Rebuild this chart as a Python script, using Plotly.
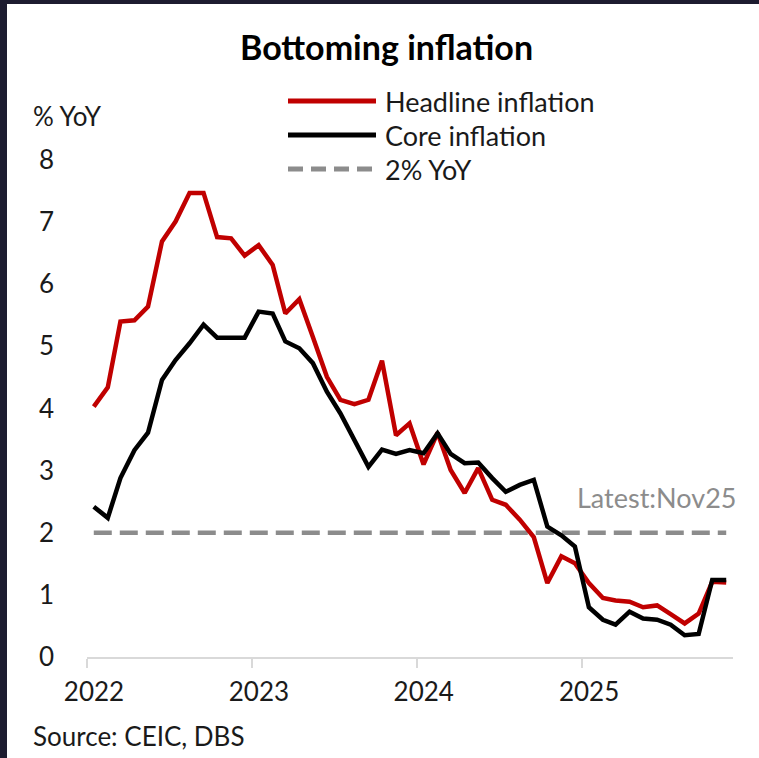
import pandas as pd
import plotly.graph_objects as go

# Monthly observations, Jan 2022 - Nov 2025
months = pd.date_range("2022-01-01", "2025-11-01", freq="MS").strftime("%Y-%m").tolist()

headline = [
    4.03, 4.34, 5.40, 5.42, 5.64, 6.69, 7.01, 7.47, 7.47, 6.76, 6.74, 6.46,
    6.63, 6.31, 5.53, 5.76, 5.15, 4.51, 4.14, 4.07, 4.14, 4.77, 3.57, 3.76,
    3.10, 3.61, 3.01, 2.64, 3.04, 2.53, 2.45, 2.21, 1.93, 1.19, 1.62, 1.51,
    1.19, 0.95, 0.91, 0.89, 0.80, 0.83, 0.69, 0.54, 0.70, 1.21, 1.20,
]
core = [
    2.42, 2.24, 2.88, 3.33, 3.61, 4.46, 4.78, 5.05, 5.35, 5.14, 5.14, 5.14,
    5.56, 5.53, 5.08, 4.97, 4.73, 4.27, 3.92, 3.50, 3.06, 3.34, 3.27, 3.33,
    3.28, 3.60, 3.27, 3.12, 3.13, 2.88, 2.66, 2.77, 2.85, 2.10, 1.96, 1.78,
    0.80, 0.60, 0.52, 0.73, 0.62, 0.60, 0.52, 0.35, 0.37, 1.24, 1.24,
]
target = [2.0] * len(months)

year_ticks = ["2022", "2023", "2024", "2025"]
y_ticks = [0, 1, 2, 3, 4, 5, 6, 7, 8]

# Points sit mid-month so each year tick falls on a January boundary
x_dates = pd.to_datetime(months) + pd.Timedelta(days=15)

RED = "#C00000"
BLACK = "#000000"
GREY = "#8C8C8C"
TEXT = "#1A1A1A"
FONT = "Lato"
FS = 26

W, H = 759, 758
ML, MR, MT, MB = 87, 26, 160, 101
PW, PH = W - ML - MR, H - MT - MB


def px(x):
    return (x - ML) / PW


def py(y):
    return (H - MB - y) / PH


fig = go.Figure()
fig.add_trace(go.Scatter(x=x_dates, y=target, mode="lines", name="2% YoY",
                         line=dict(color=GREY, width=4.5, dash="18px,8px")))
fig.add_trace(go.Scatter(x=x_dates, y=headline, mode="lines", name="Headline inflation",
                         line=dict(color=RED, width=4.5)))
fig.add_trace(go.Scatter(x=x_dates, y=core, mode="lines", name="Core inflation",
                         line=dict(color=BLACK, width=4.5)))

shapes = [
    # dark frame strips on the top and left edges
    dict(type="rect", xref="paper", yref="paper", x0=px(0), x1=px(W), y0=py(0), y1=py(4),
         fillcolor="#1D1C30", line=dict(width=0), layer="above"),
    dict(type="rect", xref="paper", yref="paper", x0=px(0), x1=px(7), y0=py(0), y1=py(H),
         fillcolor="#1D1C30", line=dict(width=0), layer="above"),
]

legend_items = [
    ("Headline inflation", RED, "solid", 101),
    ("Core inflation", BLACK, "solid", 135),
    ("2% YoY", GREY, "15px,8px", 169),
]
annotations = []
for label, color, dash, yy in legend_items:
    shapes.append(dict(type="line", xref="paper", yref="paper",
                       x0=px(288), x1=px(376), y0=py(yy), y1=py(yy),
                       line=dict(color=color, width=5, dash=dash)))
    annotations.append(dict(text=label, xref="paper", yref="paper", x=px(383), y=py(yy),
                            xanchor="left", yanchor="middle", showarrow=False,
                            font=dict(family=FONT, size=FS + 1, color=TEXT)))

annotations += [
    dict(text="<b>Bottoming inflation</b>", xref="paper", yref="paper", x=px(386), y=py(46),
         xanchor="center", yanchor="middle", showarrow=False,
         font=dict(family=FONT, size=34, color="#000000")),
    dict(text="% YoY", xref="paper", yref="paper", x=px(31), y=py(116),
         xanchor="left", yanchor="middle", showarrow=False,
         font=dict(family=FONT, size=FS, color=TEXT)),
    dict(text="Latest:Nov25", xref="paper", yref="paper", x=px(738), y=py(497),
         xanchor="right", yanchor="middle", showarrow=False,
         font=dict(family=FONT, size=FS + 1, color=GREY)),
    dict(text="Source: CEIC, DBS", xref="paper", yref="paper", x=px(31), y=py(736),
         xanchor="left", yanchor="middle", showarrow=False,
         font=dict(family=FONT, size=FS, color=TEXT)),
]

fig.update_layout(
    width=W, height=H,
    margin=dict(l=ML, r=MR, t=MT, b=MB, pad=0),
    paper_bgcolor="white", plot_bgcolor="white",
    showlegend=False,
    shapes=shapes, annotations=annotations,
    font=dict(family=FONT, size=FS, color=TEXT),
)
fig.update_xaxes(
    range=["2022-01-01", "2025-12-01"],
    tickvals=[f"{y}-01-01" for y in year_ticks], ticktext=year_ticks,
    ticklabelshift=7, ticklabelstandoff=2,
    showgrid=False, zeroline=False,
    showline=True, linecolor="#D9D9D9", linewidth=2,
    ticks="outside", ticklen=9, tickwidth=2, tickcolor="#D9D9D9",
    tickfont=dict(family=FONT, size=FS, color=TEXT),
)
fig.update_yaxes(
    range=[0, 8], tickvals=y_ticks,
    showgrid=False, zeroline=False, showline=False, ticks="",
    ticklabelstandoff=32,
    tickfont=dict(family=FONT, size=FS, color=TEXT),
)

fig.write_html("out.html")
